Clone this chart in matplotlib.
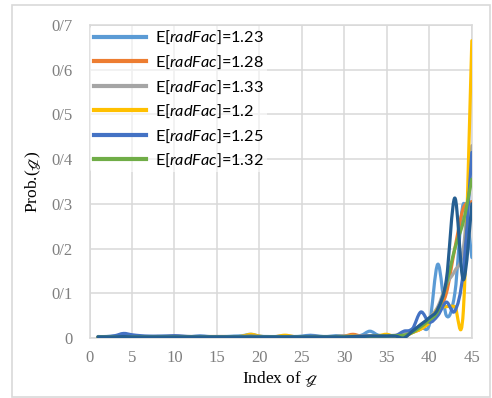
import matplotlib
matplotlib.use('Agg')
import matplotlib.pyplot as plt
from matplotlib.path import Path
from matplotlib.patches import PathPatch, Rectangle
from matplotlib.lines import Line2D
from matplotlib.ticker import FuncFormatter, MultipleLocator

# index 1..45
x_index = list(range(1, 46))

rad_123 = [0.003, 0.003, 0.004, 0.006, 0.004, 0.003, 0.003, 0.003, 0.004, 0.003,
           0.003, 0.003, 0.004, 0.003, 0.003, 0.003, 0.004, 0.005, 0.008, 0.004,
           0.003, 0.003, 0.004, 0.003, 0.004, 0.006, 0.004, 0.003, 0.005, 0.004,
           0.004, 0.006, 0.015, 0.006, 0.005, 0.004, 0.008, 0.02, 0.025, 0.03,
           0.165, 0.05, 0.1, 0.3, 0.18]
rad_128 = [0.002, 0.002, 0.003, 0.003, 0.003, 0.003, 0.002, 0.003, 0.003, 0.004,
           0.003, 0.003, 0.002, 0.003, 0.003, 0.003, 0.002, 0.003, 0.003, 0.003,
           0.002, 0.003, 0.004, 0.003, 0.002, 0.003, 0.003, 0.002, 0.003, 0.004,
           0.008, 0.004, 0.005, 0.004, 0.005, 0.004, 0.005, 0.012, 0.02, 0.035,
           0.06, 0.1, 0.2, 0.29, 0.305]
rad_133 = [0.002, 0.002, 0.002, 0.003, 0.003, 0.002, 0.002, 0.003, 0.002, 0.002,
           0.003, 0.002, 0.002, 0.003, 0.002, 0.002, 0.003, 0.002, 0.003, 0.003,
           0.002, 0.002, 0.003, 0.002, 0.002, 0.003, 0.002, 0.003, 0.003, 0.004,
           0.004, 0.004, 0.005, 0.005, 0.005, 0.006, 0.008, 0.015, 0.03, 0.045,
           0.07, 0.12, 0.15, 0.2, 0.43]
rad_120 = [0.002, 0.002, 0.002, 0.003, 0.002, 0.002, 0.002, 0.003, 0.002, 0.003,
           0.002, 0.002, 0.003, 0.002, 0.002, 0.003, 0.002, 0.004, 0.008, 0.004,
           0.002, 0.003, 0.006, 0.003, 0.002, 0.002, 0.003, 0.002, 0.003, 0.003,
           0.004, 0.003, 0.004, 0.005, 0.008, 0.002, 0.002, 0.012, 0.02, 0.035,
           0.065, 0.07, 0.07, 0.06, 0.665]
rad_125 = [0.003, 0.003, 0.005, 0.01, 0.007, 0.005, 0.004, 0.004, 0.004, 0.005,
           0.004, 0.003, 0.004, 0.003, 0.003, 0.003, 0.003, 0.003, 0.004, 0.003,
           0.003, 0.003, 0.003, 0.003, 0.003, 0.004, 0.003, 0.003, 0.003, 0.003,
           0.003, 0.004, 0.004, 0.004, 0.004, 0.005, 0.015, 0.02, 0.058, 0.035,
           0.05, 0.08, 0.06, 0.15, 0.415]
rad_132 = [0.002, 0.002, 0.002, 0.002, 0.002, 0.002, 0.002, 0.002, 0.002, 0.002,
           0.002, 0.002, 0.002, 0.002, 0.002, 0.002, 0.002, 0.002, 0.002, 0.002,
           0.002, 0.002, 0.002, 0.002, 0.002, 0.002, 0.002, 0.002, 0.002, 0.003,
           0.003, 0.003, 0.003, 0.004, 0.004, 0.005, 0.006, 0.012, 0.025, 0.04,
           0.06, 0.12, 0.2, 0.26, 0.355]
# seventh series, drawn but not in the legend
extra = [0.002, 0.002, 0.002, 0.003, 0.002, 0.002, 0.002, 0.002, 0.002, 0.002,
         0.002, 0.002, 0.002, 0.002, 0.002, 0.002, 0.002, 0.002, 0.002, 0.002,
         0.002, 0.002, 0.002, 0.002, 0.002, 0.002, 0.002, 0.002, 0.002, 0.002,
         0.003, 0.003, 0.004, 0.004, 0.004, 0.004, 0.0, 0.015, 0.03, 0.045,
         0.065, 0.13, 0.313, 0.13, 0.30]

labels = ['E[$radFac$]=1.23', 'E[$radFac$]=1.28', 'E[$radFac$]=1.33',
          'E[$radFac$]=1.2', 'E[$radFac$]=1.25', 'E[$radFac$]=1.32']
colors = ['#5B9BD5', '#ED7D31', '#A5A5A5', '#FFC000', '#4472C4', '#70AD47']
extra_color = '#255E91'

plt.rcParams['mathtext.fontset'] = 'stix'
plt.rcParams['mathtext.rm'] = 'Lato'
plt.rcParams['mathtext.it'] = 'Lato:italic'


def smooth_path(xs, ys):
    # excel-like smoothed line: cubic bezier through every point
    n = len(xs)
    verts = [(xs[0], ys[0])]
    codes = [Path.MOVETO]
    for i in range(n - 1):
        x0, y0 = xs[max(i - 1, 0)], ys[max(i - 1, 0)]
        x1, y1 = xs[i], ys[i]
        x2, y2 = xs[i + 1], ys[i + 1]
        x3, y3 = xs[min(i + 2, n - 1)], ys[min(i + 2, n - 1)]
        verts += [(x1 + (x2 - x0) / 6, y1 + (y2 - y0) / 6),
                  (x2 - (x3 - x1) / 6, y2 - (y3 - y1) / 6),
                  (x2, y2)]
        codes += [Path.CURVE4] * 3
    return Path(verts, codes)


fig = plt.figure(figsize=(4.92, 3.98), dpi=100)
ax = fig.add_axes([0.182, 0.151, 0.777, 0.786])

series = [rad_123, rad_128, rad_133, rad_120, rad_125, rad_132]
lw = 2.3
for ys, c in zip(series + [extra], colors + [extra_color]):
    ax.add_patch(PathPatch(smooth_path(x_index, ys), facecolor='none',
                           edgecolor=c, lw=lw, capstyle='round',
                           joinstyle='round', zorder=3))

ax.set_xlim(0, 45)
ax.set_ylim(0, 0.7)
ax.xaxis.set_major_locator(MultipleLocator(5))
ax.yaxis.set_major_locator(MultipleLocator(0.1))
ax.yaxis.set_major_formatter(FuncFormatter(
    lambda v, p: '0' if abs(v) < 1e-9 else f'{v:.1f}'.replace('.', '/')))
ax.grid(True, color='#D9D9D9', lw=1.1, zorder=0)
ax.set_axisbelow(True)
for s in ax.spines.values():
    s.set_color('#D9D9D9')
    s.set_linewidth(1.1)
ax.tick_params(length=0, labelsize=12, labelcolor='#7f7f7f')
ax.tick_params(axis='y', pad=12)
ax.tick_params(axis='x', pad=9)
for t in ax.get_xticklabels() + ax.get_yticklabels():
    t.set_family('Liberation Serif')

ax.set_xlabel(r'Index of $\mathscr{g}$', family='Liberation Serif',
              fontsize=12.5, labelpad=2)
ax.set_ylabel(r'Prob.($\mathscr{g}$)', family='Liberation Serif',
              fontsize=12.5, labelpad=6)

handles = [Line2D([], [], color=c, lw=3) for c in colors]
leg = ax.legend(handles, labels, loc='upper left', bbox_to_anchor=(0.0, 1.0),
                fontsize=11.7, handlelength=3.2, handletextpad=0.6,
                labelspacing=0.45, borderaxespad=0.05, borderpad=0.2,
                frameon=True, facecolor='white', framealpha=0.6,
                edgecolor='none')
for t in leg.get_texts():
    t.set_family('Lato')
    t.set_math_fontfamily('custom')

fig.patches.append(Rectangle((0.024, 0.003), 0.972, 0.984, transform=fig.transFigure,
                             fill=False, edgecolor='#D9D9D9', lw=1.2))

fig.savefig('out.png', dpi=100)
